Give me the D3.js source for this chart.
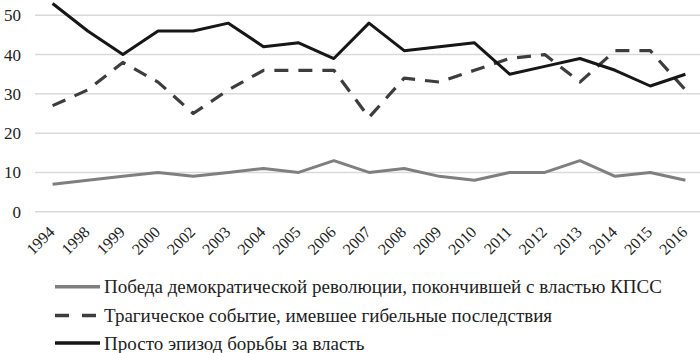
<!DOCTYPE html>
<html>
    <head>
        <meta charset="utf-8">
        <title></title>
        <script src="https://d3js.org/d3.v7.min.js"></script>
    </head>

    <body style="margin:0; background:#fff;">
        <svg id="chart" width="700" height="353"></svg>
    </body>

    <script>

        // data
        var years = ["1994", "1998", "1999", "2000", "2002", "2003", "2004", "2005", "2006", "2007",
                     "2008", "2009", "2010", "2011", "2012", "2013", "2014", "2015", "2016"]
        var victory  = [7, 8, 9, 10, 9, 10, 11, 10, 13, 10, 11, 9, 8, 10, 10, 13, 9, 10, 8]
        var tragic   = [27, 31, 38, 33, 25, 31, 36, 36, 36, 24, 34, 33, 36, 39, 40, 33, 41, 41, 31]
        var struggle = [53, 46, 40, 46, 46, 48, 42, 43, 39, 48, 41, 42, 43, 35, 37, 39, 36, 32, 35]
        var yTicks = [0, 10, 20, 30, 40, 50]
        var labels = [
            "Победа демократической революции, покончившей с властью КПСС",
            "Трагическое событие, имевшее гибельные последствия",
            "Просто эпизод борьбы за власть"
        ]

        var series = [
            {name: labels[0], values: victory,  color: "#7f7f7f", dash: null,    width: 3},
            {name: labels[1], values: tragic,   color: "#3d3d3d", dash: "14,10", width: 3.2},
            {name: labels[2], values: struggle, color: "#161616", dash: null,    width: 3}
        ]

        var svg = d3.select("svg")
        var font = "Liberation Serif, DejaVu Serif, serif"

        var x = d3.scalePoint()
            .domain(years)
            .range([35, 703])
            .padding(0.5)

        var y = d3.scaleLinear()
            .domain([0, 50])
            .range([211.7, 15.3])

        // gridlines
        svg.append("g")
            .selectAll("line")
            .data(yTicks)
            .enter().append("line")
            .attr("x1", 35)
            .attr("x2", 700)
            .attr("y1", function(d){ return y(d) })
            .attr("y2", function(d){ return y(d) })
            .style("stroke", "#d9d9d9")
            .style("stroke-width", 1.5)

        // y labels
        svg.append("g")
            .selectAll("text")
            .data(yTicks)
            .enter().append("text")
            .attr("x", 21)
            .attr("y", function(d){ return y(d) })
            .attr("dy", "0.35em")
            .attr("text-anchor", "end")
            .attr("font-family", font)
            .attr("font-size", 17)
            .attr("fill", "#222")
            .text(function(d){ return d })

        // x labels
        svg.append("g")
            .selectAll("text")
            .data(years)
            .enter().append("text")
            .attr("transform", function(d){ return "translate(" + (x(d) + 3) + ",233) rotate(-45)" })
            .attr("text-anchor", "end")
            .attr("font-family", font)
            .attr("font-size", 16)
            .attr("fill", "#222")
            .text(function(d){ return d })

        // lines
        var line = d3.line()
            .x(function(d, i){ return x(years[i]) })
            .y(function(d){ return y(d) })

        svg.append("g")
            .selectAll("path")
            .data(series)
            .enter().append("path")
            .attr("d", function(d){ return line(d.values) })
            .style("fill", "none")
            .style("stroke", function(d){ return d.color })
            .style("stroke-width", function(d){ return d.width })
            .style("stroke-dasharray", function(d){ return d.dash })
            .style("stroke-linejoin", "round")

        // legend
        var legend = svg.append("g")
            .selectAll("g")
            .data(series)
            .enter().append("g")
            .attr("transform", function(d, i){ return "translate(0," + [286.7, 315.5, 343][i] + ")" })

        legend.append("line")
            .attr("x1", 55)
            .attr("x2", 100)
            .style("stroke", function(d){ return d.color })
            .style("stroke-width", 3.5)
            .style("stroke-dasharray", function(d){ return d.dash ? "14,13" : null })

        legend.append("text")
            .attr("x", 104)
            .attr("dy", "0.35em")
            .attr("font-family", font)
            .attr("font-size", 19)
            .attr("fill", "#222")
            .text(function(d){ return d.name })

    </script>
</html>
